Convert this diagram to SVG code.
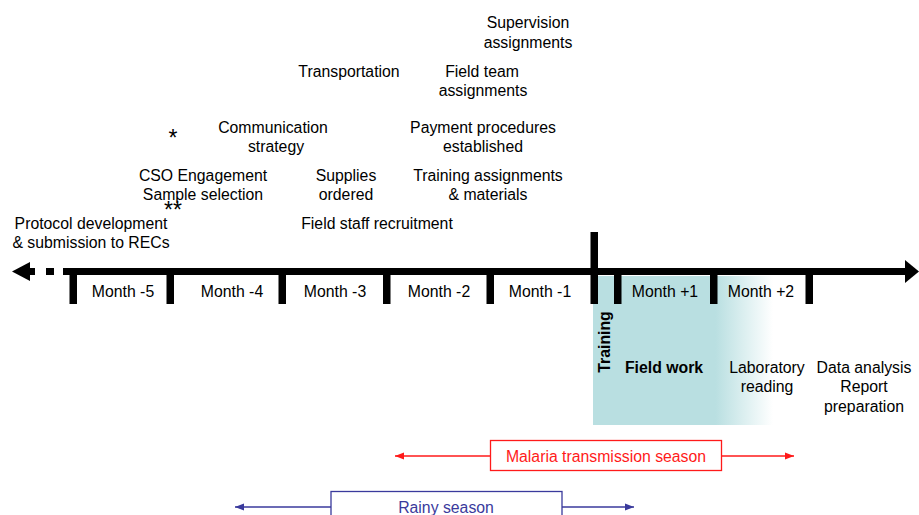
<svg xmlns="http://www.w3.org/2000/svg" width="919" height="515" viewBox="0 0 919 515">
<style>
text{font-family:"Liberation Sans",Arial,sans-serif;font-size:15.8px;fill:#000;text-anchor:middle}
.b{font-weight:bold}
.star{font-size:23px}
.tick{fill:#000}
.red{fill:#ff1a1a}
.blue{fill:#3a3a9c}
</style>
<defs>
<linearGradient id="fade" x1="0" y1="0" x2="1" y2="0">
<stop offset="0" stop-color="#b9dfe1"/>
<stop offset="0.68" stop-color="#b9dfe1"/>
<stop offset="1" stop-color="#b9dfe1" stop-opacity="0"/>
</linearGradient>
<marker id="arR" viewBox="0 0 10 10" refX="10" refY="5" markerWidth="9" markerHeight="9" orient="auto-start-reverse" markerUnits="userSpaceOnUse"><path d="M0,1 L10,5 L0,9 z" fill="#ff1a1a"/></marker>
<marker id="arB" viewBox="0 0 10 10" refX="10" refY="5" markerWidth="9" markerHeight="9" orient="auto-start-reverse" markerUnits="userSpaceOnUse"><path d="M0,1 L10,5 L0,9 z" fill="#3a3a9c"/></marker>
</defs>
<rect id="fieldshade" x="593" y="276" width="180" height="149" fill="url(#fade)"/>
<g id="timeline">
<rect x="63" y="268" width="843" height="7" class="tick"/>
<polygon points="905,260 919,271.5 905,283" class="tick"/>
<polygon points="12,271.5 30,262 30,281" class="tick"/>
<rect x="29" y="268" width="6" height="7" class="tick"/>
<rect x="46" y="268" width="8" height="7" class="tick"/>
<rect x="69.5" y="268" width="7.5" height="36" class="tick"/>
<rect x="166.5" y="268" width="7.5" height="36" class="tick"/>
<rect x="278.5" y="268" width="7.5" height="36" class="tick"/>
<rect x="383" y="268" width="7.5" height="36" class="tick"/>
<rect x="486.5" y="268" width="7.5" height="36" class="tick"/>
<rect x="590.5" y="232" width="7.5" height="72" class="tick"/>
<rect x="614" y="268" width="7.5" height="36" class="tick"/>
<rect x="710" y="268" width="7.5" height="36" class="tick"/>
<rect x="805.5" y="268" width="7.5" height="36" class="tick"/>
</g>
<g id="months">
<text x="123" y="297">Month -5</text>
<text x="232" y="297">Month -4</text>
<text x="335" y="297">Month -3</text>
<text x="439" y="297">Month -2</text>
<text x="540" y="297">Month -1</text>
<text x="665" y="297">Month +1</text>
<text x="761" y="297">Month +2</text>
</g>
<g id="n-supervision"><text x="528" y="28">Supervision</text><text x="528" y="48">assignments</text></g>
<g id="n-transport"><text x="349" y="77">Transportation</text></g>
<g id="n-fieldteam"><text x="482" y="77">Field team</text><text x="483" y="96">assignments</text></g>
<g id="n-comm"><text x="273" y="133">Communication</text><text x="276" y="152">strategy</text></g>
<g id="n-star"><text class="star" x="173" y="146">*</text></g>
<g id="n-payment"><text x="483" y="133">Payment procedures</text><text x="483" y="152">established</text></g>
<g id="n-cso"><text x="203" y="181">CSO Engagement</text><text x="203" y="200">Sample selection</text></g>
<g id="n-star2"><text class="star" x="173" y="218">**</text></g>
<g id="n-supplies"><text x="346" y="181">Supplies</text><text x="346" y="200">ordered</text></g>
<g id="n-training-assign"><text x="488" y="181">Training assignments</text><text x="488" y="200">&amp; materials</text></g>
<g id="n-protocol"><text x="91" y="229">Protocol development</text><text x="91" y="248">&amp; submission to RECs</text></g>
<g id="n-recruit"><text x="377" y="229">Field staff recruitment</text></g>
<g id="n-training"><text class="b" transform="translate(610,342) rotate(-90)">Training</text></g>
<g id="n-fieldwork"><text class="b" x="664" y="373">Field work</text></g>
<g id="n-lab"><text x="767" y="373">Laboratory</text><text x="767" y="392">reading</text></g>
<g id="n-data"><text x="864" y="373">Data analysis</text><text x="864" y="392">Report</text><text x="864" y="412">preparation</text></g>
<g id="connectors">
<line x1="490" y1="456" x2="395" y2="456" stroke="#ff1a1a" stroke-width="1.3" marker-end="url(#arR)"/>
<line x1="722" y1="456" x2="794" y2="456" stroke="#ff1a1a" stroke-width="1.3" marker-end="url(#arR)"/>
<line x1="331" y1="507" x2="235" y2="507" stroke="#3a3a9c" stroke-width="1.3" marker-end="url(#arB)"/>
<line x1="562" y1="507" x2="634" y2="507" stroke="#3a3a9c" stroke-width="1.3" marker-end="url(#arB)"/>
</g>
<g id="n-malaria"><rect x="490.5" y="440.5" width="231" height="30" fill="#fff" stroke="#ff1a1a" stroke-width="1.3"/><text class="red" x="606" y="462">Malaria transmission season</text></g>
<g id="n-rainy"><rect x="331" y="491.5" width="231" height="30" fill="#fff" stroke="#3a3a9c" stroke-width="1.3"/><text class="blue" x="446" y="513">Rainy season</text></g>
</svg>
